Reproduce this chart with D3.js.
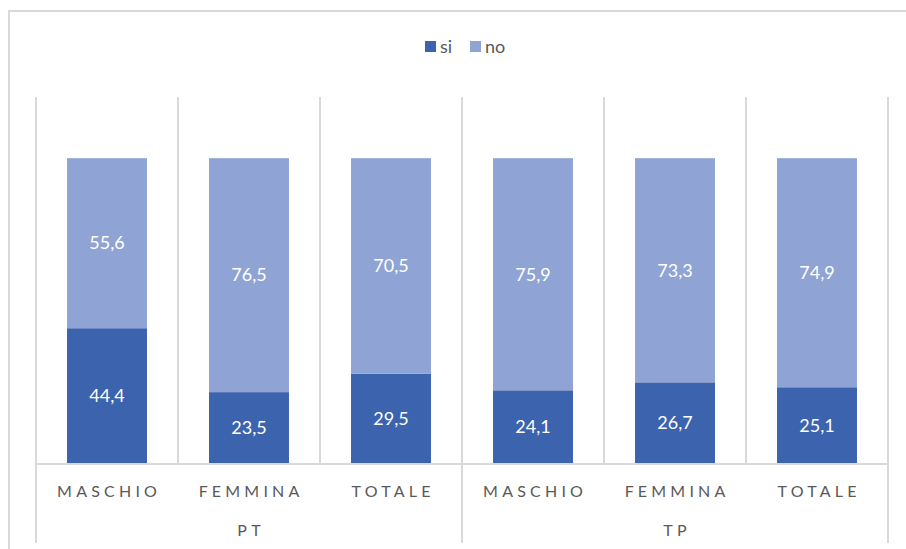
<!DOCTYPE html>
<html><head><meta charset="utf-8">
<script src="https://cdn.jsdelivr.net/npm/d3@7"></script>
<style>body{margin:0;background:#fff}svg{display:block}text{font-family:Lato,"Noto Sans",sans-serif}</style>
</head><body><svg id="c" width="906" height="549"></svg>
<script>
const groups = ["PT","TP"];
const categories = ["MASCHIO","FEMMINA","TOTALE"];
const si = [44.4,23.5,29.5,24.1,26.7,25.1];
const no = [55.6,76.5,70.5,75.9,73.3,74.9];
const seriesNames = ["si","no"];
const colors = {si:"#3C63AD", no:"#8FA4D4"};

const rows = [];
groups.forEach((g,gi)=>categories.forEach((c,ci)=>{const i=gi*categories.length+ci; rows.push({key:g+"|"+c,group:g,cat:c,si:si[i],no:no[i]});}));

const svg = d3.select("#c");
const grid = "#D9D9D9";
svg.append("rect").attr("x",9).attr("y",11).attr("width",920).attr("height",560).attr("fill","none").attr("stroke",grid).attr("stroke-width",2);

const L=36,R=888,T=97,B=464;
const x = d3.scaleBand().domain(rows.map(d=>d.key)).range([L,R]).paddingInner(0).paddingOuter(0);
const y = d3.scaleLinear().domain([0,120]).range([B,T]);
const bw = x.bandwidth()*0.563;

rows.forEach((d,i)=>{
  const xx = x(d.key);
  const isGroupEdge = i % categories.length === 0;
  svg.append("line").attr("x1",xx).attr("x2",xx).attr("y1",T).attr("y2",isGroupEdge?543:B).attr("stroke",grid).attr("stroke-width",2);
});
svg.append("line").attr("x1",R).attr("x2",R).attr("y1",T).attr("y2",543).attr("stroke",grid).attr("stroke-width",2);

const stack = d3.stack().keys(seriesNames)(rows);
stack.forEach(s=>{
  svg.append("g").selectAll("rect").data(s).join("rect")
    .attr("x",d=>x(d.data.key)+(x.bandwidth()-bw)/2)
    .attr("width",bw)
    .attr("y",d=>y(d[1]))
    .attr("height",d=>y(d[0])-y(d[1]))
    .attr("fill",colors[s.key]);
  svg.append("g").selectAll("text").data(s).join("text")
    .attr("x",d=>x(d.data.key)+x.bandwidth()/2)
    .attr("y",d=>(y(d[0])+y(d[1]))/2)
    .attr("dy","0.35em")
    .attr("text-anchor","middle")
    .attr("fill","#fff").attr("font-size",18)
    .text(d=>d3.format(".1f")(d[1]-d[0]).replace(".",","));
});

svg.append("line").attr("x1",L).attr("x2",R).attr("y1",B).attr("y2",B).attr("stroke",grid).attr("stroke-width",2);

const ls = 4.2;
svg.append("g").selectAll("text").data(rows).join("text")
  .attr("x",d=>x(d.key)+x.bandwidth()/2+ls/2)
  .attr("y",497)
  .attr("text-anchor","middle")
  .attr("fill","#595959").attr("font-size",16).attr("letter-spacing",ls)
  .text(d=>d.cat);

const gx = d3.scaleBand().domain(groups).range([L,R]);
svg.append("g").selectAll("text").data(groups).join("text")
  .attr("x",d=>gx(d)+gx.bandwidth()/2+ls/2)
  .attr("y",536)
  .attr("text-anchor","middle")
  .attr("fill","#595959").attr("font-size",16).attr("letter-spacing",ls)
  .text(d=>d);

const leg = svg.append("g");
const lx = [425,470];
seriesNames.forEach((n,i)=>{
  leg.append("rect").attr("x",lx[i]).attr("y",41).attr("width",11).attr("height",11).attr("fill",colors[n]);
  leg.append("text").attr("x",lx[i]+15).attr("y",47).attr("dy","0.35em").attr("fill","#595959").attr("font-size",18).text(n);
});
</script></body></html>
